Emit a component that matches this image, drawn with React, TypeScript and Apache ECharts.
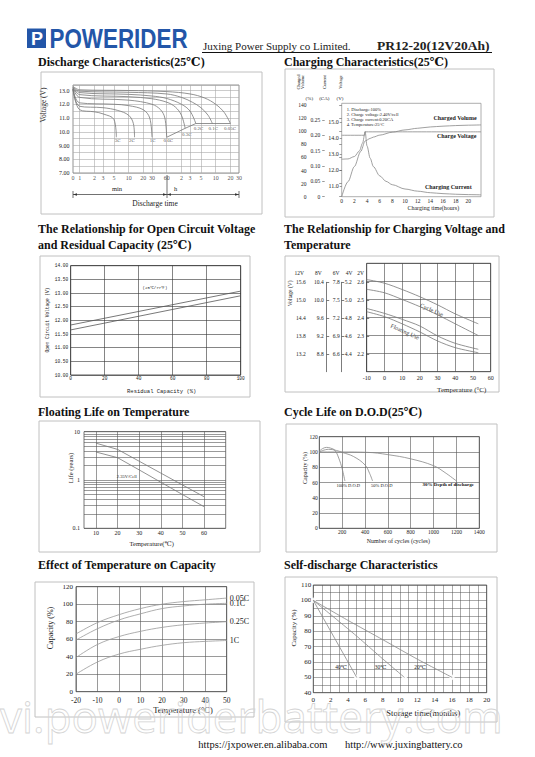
import React, { useEffect, useRef } from "react";
import * as echarts from "echarts";

const SERIF = '"Liberation Serif", "Times New Roman", "DejaVu Serif", serif';
const MONO = '"Liberation Mono", "DejaVu Sans Mono", monospace';
const SANS = '"Liberation Sans", Arial, sans-serif';

// ---------- 1. Discharge characteristics: [minutes, volts] ----------
const dischargeTickMinutes = [0.73, 1, 2, 3, 5, 10, 20, 30, 60, 120, 180, 300, 600, 1200, 1800];
const dischargeTickLabels = ["0", "1", "2", "3", "5", "10", "20", "30", "60", "2", "3", "5", "10", "20", "30"];
const dischargeRates = ["0.05C", "0.1C", "0.2C", "0.3C", "0.6C", "1C", "2C", "3C"];
const discharge005C = [[0.73, 13.3], [1, 13.05], [10, 13.0], [60, 12.92], [180, 12.75], [360, 12.45], [600, 12.0], [900, 11.4], [1200, 10.6]];
const discharge01C = [[0.73, 13.25], [1, 12.95], [10, 12.87], [60, 12.75], [120, 12.5], [200, 12.15], [300, 11.75], [420, 11.2], [514, 10.6]];
const discharge02C = [[0.73, 13.2], [1, 12.85], [10, 12.72], [30, 12.6], [60, 12.42], [120, 12.0], [180, 11.5], [236, 10.6]];
const discharge03C = [[0.73, 13.2], [1, 12.7], [10, 12.55], [30, 12.4], [60, 12.15], [90, 11.8], [120, 11.2], [143, 10.25]];
const discharge06C = [[0.73, 13.15], [1, 12.5], [10, 12.3], [30, 12.0], [45, 11.6], [55, 11.0], [60, 9.6]];
const discharge1C = [[0.73, 13.1], [1, 12.1], [5, 12.0], [10, 11.9], [20, 11.6], [27, 11.0], [30, 9.6]];
const discharge2C = [[0.73, 13.1], [1, 11.85], [3, 11.75], [6, 11.55], [10, 11.2], [12.5, 10.6], [13.2, 9.6]];
const discharge3C = [[0.73, 13.1], [1, 11.6], [2, 11.45], [3, 11.3], [5, 10.9], [5.6, 9.6]];
const dischargeCutoff = [[60, 9.6], [143, 10.25], [236, 10.6], [1200, 10.6]];
const dischargeLabelAt = [[1180, 10.25], [540, 10.25], [267, 10.25], [155, 9.82], [65, 9.33], [31, 9.33], [11.7, 9.33], [5.95, 9.33]];

// ---------- 2. Charging characteristics: [hours, value] ----------
const chargedVolume = [[0, 0], [1, 23], [2, 46], [3, 69], [3.7, 85], [4.5, 89], [5, 91], [6, 94], [8, 98.5], [10, 102], [12, 104.5], [14, 106.5], [16, 107.7], [18, 108.6], [20, 109.2], [22, 109.6]];
const chargeVoltage = [[0, 12.68], [1, 12.7], [2, 12.85], [2.8, 13.2], [3.3, 13.7], [3.7, 14.4], [22, 14.4]];
const chargeCurrent = [[0, 0.2], [3.6, 0.2], [3.7, 0.212], [4, 0.165], [4.5, 0.125], [5, 0.098], [6, 0.068], [7, 0.05], [8, 0.039], [10, 0.025], [12, 0.018], [14, 0.013], [16, 0.01], [18, 0.008], [20, 0.0068], [22, 0.006]];
const chargeVolumeTicks = [0, 20, 40, 60, 80, 100, 120, 140];
const chargeCurrentTicks = [0, 0.05, 0.1, 0.15, 0.2, 0.25];
const chargeVoltageTicks = [11, 12, 13, 14, 15];
const chargeNotes = ["1. Discharge:100%", "2. Charge voltage:2.40V/cell", "3. Charge current:0.20CA", "4. Temperature:25°C"];

// ---------- 3. OCV vs residual capacity ----------
const ocvCapacity = [0, 100];
const ocvUpper = [11.83, 13.07];
const ocvLower = [11.65, 12.9];

// ---------- 4. Charging voltage vs temperature (V/cell) ----------
const chargeTemps = [-10, 0, 10, 20, 30, 40, 53];
const cycleUseHigh = [2.61, 2.59, 2.555, 2.515, 2.47, 2.42, 2.365];
const cycleUseLow = [2.556, 2.537, 2.5, 2.46, 2.415, 2.365, 2.3];
const floatUseHigh = [2.45, 2.423, 2.39, 2.353, 2.298, 2.257, 2.224];
const floatUseLow = [2.432, 2.405, 2.365, 2.32, 2.27, 2.233, 2.205];
const cellMultipliers = [6, 4, 3, 2, 1];
const batteryVoltLabels = ["12V", "8V", "6V", "4V", "2V"];

// ---------- 5. Floating life vs temperature ----------
const floatTemps = [10, 20, 30, 40, 50, 60];
const floatLifeHigh = [5.8, 4.3, 2.45, 1.39, 0.79, 0.45];
const floatLifeLow = [3.8, 2.9, 1.62, 0.9, 0.5, 0.28];
const floatLifeGrid = [0.2, 0.3, 0.4, 0.5, 0.6, 0.7, 0.8, 0.9, 2, 3, 4, 5, 6, 7, 8, 9];

// ---------- 6. Cycle life vs DOD: [cycles, %] ----------
const cycle100 = [[0, 101], [30, 104.5], [64, 106], [100, 105], [137, 102], [170, 92], [200, 78], [224, 62]];
const cycle50 = [[0, 100], [80, 103.5], [150, 102], [200, 99.5], [300, 94], [400, 83], [440, 72], [466, 62]];
const cycle30 = [[0, 100], [200, 100], [420, 99.5], [600, 96.5], [800, 91], [1000, 82], [1100, 73], [1200, 62]];

// ---------- 7. Temperature vs capacity ----------
const capTemps = [-20, -10, 0, 10, 20, 30, 40, 50];
const capNames = ["0.05C", "0.1C", "0.25C", "1C"];
const cap005C = [66, 79, 88, 95, 100, 103, 105, 107];
const cap01C = [59, 72, 82, 89, 95, 98, 100, 101];
const cap025C = [39, 54, 63, 69, 73.5, 76.5, 78.5, 80];
const cap1C = [20, 34, 43, 48.5, 53, 56, 57.5, 58.5];

// ---------- 8. Self-discharge: [months, %] ----------
const selfNames = ["40℃", "30℃", "20℃"];
const self40 = [[0, 100], [5, 50]];
const self30 = [[0, 100], [2, 90.8], [5, 76.8], [8, 62], [10.5, 50]];
const self20 = [[0, 100], [4, 87], [8, 74.5], [12, 61.8], [16, 50]];

function buildOption() {
  const grid: any[] = [];
  const xAxis: any[] = [];
  const yAxis: any[] = [];
  const series: any[] = [];
  const graphic: any[] = [];
  const R = Math.PI / 2;

  const txt = (x: number, y: number, text: string, size: number, o: any = {}) => {
    const style: any = {
      text,
      fontSize: size,
      fontFamily: o.family || SERIF,
      fontWeight: o.weight || "normal",
      fill: o.fill || "#222",
      textAlign: o.align || "center",
      textVerticalAlign: "middle",
    };
    if (o.stroke) {
      style.stroke = o.stroke;
      style.lineWidth = o.lineWidth || 1;
    }
    graphic.push({ type: "text", x, y, rotation: o.rotation || 0, scaleX: o.scaleX || 1, silent: true, z: o.z || 50, style });
  };
  const seg = (x1: number, y1: number, x2: number, y2: number, color = "#333", w = 0.7) =>
    graphic.push({ type: "line", silent: true, z: 40, shape: { x1, y1, x2, y2 }, style: { stroke: color, lineWidth: w } });
  const box = (x1: number, y1: number, x2: number, y2: number) =>
    graphic.push({ type: "rect", silent: true, z: 1, shape: { x: x1, y: y1, width: x2 - x1, height: y2 - y1 }, style: { fill: "rgba(0,0,0,0)", stroke: "#c0c0c0", lineWidth: 1 } });
  const tri = (pts: number[][]) => graphic.push({ type: "polygon", silent: true, z: 40, shape: { points: pts }, style: { fill: "#333" } });

  const addGrid = (left: number, top: number, width: number, height: number, border = "#555", show = true) => {
    grid.push({ left, top, width, height, show, borderColor: border, borderWidth: 0.8, backgroundColor: "rgba(0,0,0,0)" });
    return grid.length - 1;
  };
  const lab = (size: number, margin: number, family = SERIF, extra: any = {}) => ({ fontSize: size, fontFamily: family, color: "#222", margin, ...extra });
  const split = (color: string, w = 0.6) => ({ show: true, lineStyle: { color, width: w, type: "solid" } });
  const addX = (ax: any) => { xAxis.push({ type: "value", axisLine: { show: false }, axisTick: { show: false }, ...ax }); return xAxis.length - 1; };
  const addY = (ax: any) => { yAxis.push({ type: "value", axisLine: { show: false }, axisTick: { show: false }, ...ax }); return yAxis.length - 1; };
  const addLine = (xi: number, yi: number, data: any[], o: any = {}) =>
    series.push({
      type: "line", xAxisIndex: xi, yAxisIndex: yi, data, name: o.name, showSymbol: false, symbol: "none", silent: true,
      smooth: o.smooth || 0, smoothMonotone: o.mono, lineStyle: { color: o.color || "#888", width: o.width || 0.8 },
      markLine: o.markLine, endLabel: o.endLabel, z: 5,
    });
  const pair = (xs: number[], ys: number[]) => xs.map((x, i) => [x, ys[i]]);

  // ===== Header =====
  graphic.push({ type: "rect", silent: true, shape: { x: 27, y: 28.5, width: 19, height: 19.5 }, style: { fill: "#2356a8" } });
  txt(37, 38.8, "P", 18, { family: SANS, weight: "bold", fill: "#fff" });
  txt(49.5, 38.5, "POWERIDER", 28, { family: SANS, weight: "bold", fill: "#2356a8", align: "left", scaleX: 0.8 });
  txt(203, 46, "Juxing Power Supply co Limited.", 11, { align: "left" });
  txt(377, 45.5, "PR12-20(12V20Ah)", 13.5, { align: "left", weight: "bold" });
  seg(202, 52.5, 492, 52.5, "#111", 1);

  // ===== Titles =====
  const T = (x: number, y: number, s: string) => txt(x, y, s, 12, { align: "left", weight: "bold", fill: "#111" });
  T(38, 62, "Discharge Characteristics(25℃)");
  T(284, 62, "Charging Characteristics(25℃)");
  T(38, 229, "The Relationship for Open Circuit Voltage");
  T(38, 245, "and Residual Capacity (25℃)");
  T(284, 229, "The Relationship for Charging Voltage and");
  T(284, 245, "Temperature");
  T(38, 412, "Floating Life on Temperature");
  T(284, 412, "Cycle Life on D.O.D(25℃)");
  T(38, 565, "Effect of Temperature on Capacity");
  T(284, 565, "Self-discharge Characteristics");

  // ===== 1. Discharge =====
  box(41, 72, 262, 214);
  const g1 = addGrid(73, 85, 166, 88, "#777");
  const x1 = addX({ type: "log", gridIndex: g1, logBase: 10, min: dischargeTickMinutes[0], max: dischargeTickMinutes[dischargeTickMinutes.length - 1], axisLabel: { show: false }, splitLine: { show: false } });
  const y1 = addY({
    gridIndex: g1, min: 7, max: 13.4, interval: 0.5,
    axisLabel: lab(6, 3.5, SERIF, { showMaxLabel: false, formatter: (v: number) => (Number.isInteger(v) ? (v >= 10 ? v.toFixed(1) : v.toFixed(2)) : "") }),
    splitLine: split("#aaa"),
  });
  [discharge005C, discharge01C, discharge02C, discharge03C, discharge06C, discharge1C, discharge2C, discharge3C].forEach((d) =>
    addLine(x1, y1, d, { smooth: 0.35, color: "#777" })
  );
  addLine(x1, y1, dischargeCutoff, {
    color: "#777",
    markLine: {
      silent: true, symbol: ["none", "none"], label: { show: false }, lineStyle: { color: "#aaa", width: 0.6, type: "solid" },
      data: dischargeTickMinutes.slice(1, -1).map((v) => ({ xAxis: v })),
    },
  });
  series.push({
    type: "scatter", xAxisIndex: x1, yAxisIndex: y1, silent: true, symbolSize: 1, clip: false, itemStyle: { color: "rgba(0,0,0,0)" },
    data: dischargeTickMinutes.map((m, i) => ({ value: [m, 7], name: dischargeTickLabels[i] })),
    label: { show: true, position: "bottom", distance: 1.5, formatter: "{b}", fontSize: 6, fontFamily: SERIF, color: "#222" },
  });
  series.push({
    type: "scatter", xAxisIndex: x1, yAxisIndex: y1, silent: true, symbolSize: 1, itemStyle: { color: "rgba(0,0,0,0)" },
    data: dischargeLabelAt.map((p, i) => ({ value: p, name: dischargeRates[i] })),
    label: { show: true, position: "inside", formatter: "{b}", fontSize: 5, fontFamily: SERIF, color: "#222" },
  });
  txt(43.5, 105, "Voltage (V)", 7.5, { rotation: R });
  txt(117, 188.5, "min", 6.5);
  txt(175.7, 188.5, "h", 6.5);
  txt(155, 203.5, "Discharge time", 7.5);
  seg(73, 194.5, 239, 194.5);
  seg(167, 175, 167, 198);
  seg(73, 191, 73, 198);
  seg(239, 191, 239, 198);
  tri([[73, 194.5], [77, 193.2], [77, 195.8]]);
  tri([[167, 194.5], [163, 193.2], [163, 195.8]]);
  tri([[167, 194.5], [171, 193.2], [171, 195.8]]);
  tri([[239, 194.5], [235, 193.2], [235, 195.8]]);

  // ===== 2. Charging =====
  box(285, 69, 494, 217);
  const g2 = addGrid(341.7, 103.3, 139.3, 93.4, "#999");
  const x2 = addX({ gridIndex: g2, min: 0, max: 22, interval: 2, splitLine: { show: false }, axisLabel: lab(5.5, 1, SERIF, { showMaxLabel: false }) });
  const tickSt = { show: true, length: 2.5, lineStyle: { color: "#555", width: 0.6 } };
  const yVol = addY({ gridIndex: g2, position: "left", offset: 30.7, min: 0, max: 142.6, axisTick: { ...tickSt, customValues: chargeVolumeTicks }, axisLabel: lab(5.5, 4.5, SERIF, { customValues: chargeVolumeTicks }), splitLine: { show: false } });
  const yCur = addY({ gridIndex: g2, position: "left", offset: 17, min: 0, max: 0.304, axisTick: { ...tickSt, customValues: chargeCurrentTicks }, axisLabel: lab(5.5, 4.5, SERIF, { customValues: chargeCurrentTicks, formatter: (v: number) => (v === 0 ? "0" : v.toFixed(2)) }), splitLine: { show: false } });
  const yVolt = addY({ gridIndex: g2, position: "left", offset: 0, min: 10.33, max: 16.19, axisTick: { ...tickSt, length: 2, customValues: chargeVoltageTicks }, axisLabel: lab(6, 3, SERIF, { customValues: chargeVoltageTicks, formatter: (v: number) => v.toFixed(1) }), splitLine: { show: false } });
  addLine(x2, yVol, chargedVolume, { smooth: 0.3, mono: "x" });
  addLine(x2, yVolt, chargeVoltage, { smooth: 0.3, mono: "x" });
  addLine(x2, yCur, chargeCurrent, { smooth: 0.3, mono: "x" });
  txt(298.3, 82, "Charged", 4.5, { rotation: R });
  txt(302.8, 82, "Volume", 4.5, { rotation: R });
  txt(324.3, 82, "Current", 4.5, { rotation: R });
  txt(340, 82, "Voltage", 4.5, { rotation: R });
  txt(309.3, 98.3, "(%)", 5);
  txt(324.3, 98.3, "(CA)", 5);
  txt(340, 98.3, "(V)", 5);
  chargeNotes.forEach((s, i) => txt(346.7, [109, 114, 119.3, 124.3][i], s, 4.5, { align: "left" }));
  txt(455, 118.3, "Charged Volume", 6, { weight: "bold" });
  txt(456.7, 136, "Charge Voltage", 6, { weight: "bold" });
  txt(448.3, 187.3, "Charging Current", 6, { weight: "bold" });
  txt(433.3, 208.3, "Charging time(hours)", 6);

  // ===== 3. OCV =====
  box(40, 256, 250, 397);
  const g3 = addGrid(70.7, 265.7, 170, 109.3, "#333");
  const x3 = addX({ gridIndex: g3, min: 0, max: 100, interval: 20, axisLabel: lab(4.5, 1, MONO), splitLine: split("#333") });
  const y3 = addY({ gridIndex: g3, min: 10, max: 14, interval: 0.5, axisLabel: lab(4.5, 2.5, MONO, { formatter: (v: number) => v.toFixed(2) }), splitLine: split("#333") });
  addLine(x3, y3, pair(ocvCapacity, ocvUpper), { color: "#555" });
  addLine(x3, y3, pair(ocvCapacity, ocvLower), { color: "#555" });
  txt(47.3, 320, "Open Circuit Voltage (V)", 4.5, { rotation: R, family: MONO });
  txt(161.7, 391, "Residual Capacity (%)", 5.5, { family: MONO });
  txt(155, 288.3, "(25℃/77℉)", 4, { family: MONO });

  // ===== 4. Charging voltage vs temperature =====
  box(285, 256, 499, 392);
  const g4 = addGrid(366.7, 263.3, 124, 108.4, "#444");
  const x4 = addX({ gridIndex: g4, min: -10, max: 60, interval: 10, axisLabel: lab(6, 3), splitLine: split("#444") });
  const y4 = addY({ gridIndex: g4, min: 2.1, max: 2.7, interval: 0.1, axisLabel: { show: false }, splitLine: split("#444") });
  const g4b = addGrid(366.7, 282.3, 124, 89.4, "#444", false);
  addX({ gridIndex: g4b, min: 0, max: 1, show: false });
  const offsets = [56, 40, 25, 13, 0];
  const margins = [5, 3, 2, 2, 2.7];
  cellMultipliers.forEach((k, i) => {
    const r = (v: number) => Number(v.toFixed(2));
    addY({
      gridIndex: g4b, position: "left", offset: offsets[i], min: r(2.1 * k), max: r(2.6 * k), interval: r(0.1 * k),
      axisLine: { show: i < 3, lineStyle: { color: "#444", width: 0.7 } },
      axisTick: { show: i < 3, inside: true, length: 2.5, lineStyle: { color: "#444", width: 0.7 } },
      axisLabel: lab(5.5, margins[i], SERIF, { showMinLabel: false, formatter: (v: number) => v.toFixed(1) }),
      splitLine: { show: false },
    });
  });
  [299.3, 318.3, 336, 349, 360.7].forEach((x, i) => txt(x, 272.7, batteryVoltLabels[i], 5.5));
  addLine(x4, y4, pair(chargeTemps, cycleUseHigh), { smooth: 0.3, color: "#777" });
  addLine(x4, y4, pair(chargeTemps, cycleUseLow), { smooth: 0.3, color: "#777" });
  addLine(x4, y4, pair(chargeTemps, floatUseHigh), { smooth: 0.3, color: "#777" });
  addLine(x4, y4, pair(chargeTemps, floatUseLow), { smooth: 0.3, color: "#777" });
  txt(289.5, 293.3, "Voltage (V)", 5.5, { rotation: R });
  txt(461.7, 390, "Temperature (°C)", 7);
  txt(431.7, 310, "Cycle Use", 6, { rotation: -0.42, fill: "#444" });
  txt(405, 331.7, "Floating Use", 6, { rotation: -0.42, fill: "#444" });

  // ===== 5. Floating life =====
  box(39, 421, 260, 552);
  const g5 = addGrid(84, 431.7, 141.7, 96.6, "#555");
  const x5 = addX({ gridIndex: g5, min: 4.5, max: 70, axisTick: { show: false, customValues: floatTemps }, axisLabel: lab(6, 2, SERIF, { customValues: floatTemps }), splitLine: split("#555") });
  const y5 = addY({ type: "log", gridIndex: g5, logBase: 10, min: 0.1, max: 10, axisLabel: lab(6, 4), splitLine: split("#555") });
  addLine(x5, y5, pair(floatTemps, floatLifeHigh), {
    color: "#777",
    markLine: {
      silent: true, symbol: ["none", "none"], label: { show: false }, lineStyle: { color: "#555", width: 0.6, type: "solid" },
      data: floatLifeGrid.map((v) => ({ yAxis: v })),
    },
  });
  addLine(x5, y5, pair(floatTemps, floatLifeLow), { color: "#777" });
  txt(70, 468, "Life (years)", 6.5, { rotation: R });
  txt(151.7, 543.3, "Temperature(℃)", 6.5);
  txt(126.7, 476, "2.35V/Cell", 4.5);

  // ===== 6. Cycle life =====
  box(286, 424, 497, 552);
  const g6 = addGrid(319.3, 436.7, 160, 91.6, "#444");
  const x6 = addX({ gridIndex: g6, min: 0, max: 1400, interval: 200, axisLabel: lab(5.5, 1, SERIF, { formatter: (v: number) => (v === 0 ? "" : String(v)) }), splitLine: split("#555") });
  const y6 = addY({ gridIndex: g6, min: 0, max: 120, interval: 20, axisLabel: lab(5.5, 1.5), splitLine: split("#555") });
  addLine(x6, y6, cycle100, { smooth: 0.4, color: "#888" });
  addLine(x6, y6, cycle50, { smooth: 0.4, color: "#888" });
  addLine(x6, y6, cycle30, { smooth: 0.4, color: "#888" });
  txt(305, 468, "Capacity (%)", 6, { rotation: R });
  txt(398.3, 541, "Number of cycles (cycles)", 6);
  txt(348.3, 485, "100% D.O.D", 4.5);
  txt(381.7, 485, "50% D.O.D", 4.5);
  txt(448.3, 484.3, "30% Depth of discharge", 5, { weight: "bold", fill: "#111" });

  // ===== 7. Temperature vs capacity =====
  box(35, 582, 254, 717);
  const g7 = addGrid(76, 586.7, 150.7, 105, "#444");
  const x7 = addX({ gridIndex: g7, min: -20, max: 50, interval: 10, axisLabel: lab(7.5, 5), splitLine: split("#555") });
  const y7 = addY({ gridIndex: g7, min: 0, max: 120, interval: 20, axisLabel: lab(7, 3), splitLine: split("#555") });
  [cap005C, cap01C, cap025C, cap1C].forEach((d, i) =>
    addLine(x7, y7, pair(capTemps, d), {
      name: capNames[i], smooth: 0.4, color: "#999",
      endLabel: { show: true, formatter: "{a}", fontSize: 8, fontFamily: SERIF, color: "#222", distance: 3 },
    })
  );
  txt(50.7, 628, "Capacity (%)", 8, { rotation: R });
  txt(183, 710, "Temperature (°C)", 8.5);

  // ===== 8. Self-discharge =====
  box(285, 577, 497, 722);
  const g8 = addGrid(313.3, 585, 173.4, 107.7, "#444");
  const x8 = addX({ gridIndex: g8, min: 0, max: 20, interval: 1, axisLabel: lab(7, 3.5, SERIF, { formatter: (v: number) => (v % 2 === 0 ? String(v) : "") }), splitLine: split("#555", 0.5) });
  const y8 = addY({ gridIndex: g8, min: 40, max: 110, interval: 5, axisLabel: lab(7, 2, SERIF, { formatter: (v: number) => (v % 10 === 0 ? String(v) : "") }), splitLine: split("#555", 0.5) });
  [self40, self30, self20].forEach((d) => addLine(x8, y8, d, { smooth: 0.2, color: "#888" }));
  series.push({
    type: "scatter", xAxisIndex: x8, yAxisIndex: y8, silent: true, symbol: "emptyCircle", symbolSize: 3.5,
    itemStyle: { color: "#fff", borderColor: "#666", borderWidth: 0.7 },
    data: [self40[0], self40[self40.length - 1], self30[self30.length - 1], self20[self20.length - 1]],
  });
  [341, 380.7, 420].forEach((x, i) => txt(x, 667.3, selfNames[i], 5.5));
  txt(294, 628, "Capacity (%)", 7, { rotation: R });
  txt(423.3, 712.7, "Storage time(months)", 8.5);

  // ===== Watermark & footer =====
  txt(0, 716, "vi.poweriderbattery.com", 44, { align: "left", family: '"Open Sans", sans-serif', fill: "rgba(0,0,0,0)", stroke: "#d4d4d4", lineWidth: 0.8, z: 200 });
  txt(198.3, 744, "https://jxpower.en.alibaba.com", 10.5, { align: "left", fill: "#111" });
  txt(345, 744, "http://www.juxingbattery.co", 10.5, { align: "left", fill: "#111" });

  return { animation: false, backgroundColor: "#fff", grid, xAxis, yAxis, series, graphic: { elements: graphic } };
}

export default function App() {
  const ref = useRef<HTMLDivElement>(null);
  useEffect(() => {
    if (!ref.current) return;
    const chart = echarts.init(ref.current, null, { renderer: "svg" });
    chart.setOption(buildOption() as any);
    return () => chart.dispose();
  }, []);
  return <div ref={ref} style={{ position: "absolute", left: 0, top: 0, width: 535, height: 757, background: "#fff" }} />;
}
